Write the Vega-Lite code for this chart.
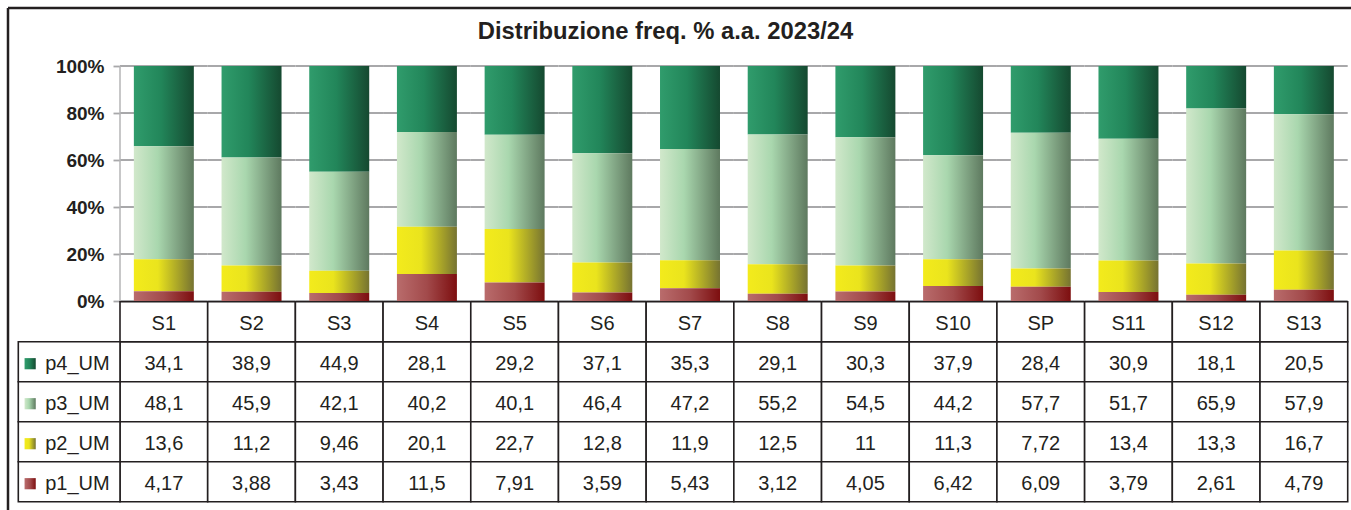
{
  "$schema": "https://vega.github.io/schema/vega-lite/v6.json",
  "width": 1343,
  "height": 502,
  "autosize": {"type": "none"},
  "padding": {"left": 8, "top": 8, "right": 0, "bottom": 0},
  "background": "white",
  "config": {
    "locale": {"number": {"decimal": ",", "thousands": ".", "grouping": [3], "currency": ["", " €"]}},
    "view": {"stroke": "#231f20", "strokeWidth": 2.5, "strokeDash": [1343, 1845, 502, 0]},
    "font": "Liberation Sans",
    "axisY": {
      "labelFont": "Liberation Sans",
      "labelFontSize": 19,
      "labelFontWeight": "bold",
      "labelColor": "#231f20",
      "labelPadding": 9,
      "tickSize": 7,
      "tickColor": "#a8a8aa",
      "tickWidth": 1.8,
      "domain": false,
      "grid": false,
      "title": null
    }
  },
  "title": {
    "text": "Distribuzione freq. % a.a. 2023/24",
    "font": "Liberation Sans",
    "fontSize": 23.8,
    "fontWeight": "bold",
    "color": "#231f20",
    "anchor": "middle",
    "frame": "group",
    "offset": -55,
    "baseline": "alphabetic",
    "dx": -14
  },
  "datasets": {
    "d": [
      {"cat": "S1", "series": "p4_UM", "value": 34.1}, {"cat": "S1", "series": "p3_UM", "value": 48.1}, {"cat": "S1", "series": "p2_UM", "value": 13.6}, {"cat": "S1", "series": "p1_UM", "value": 4.17},
      {"cat": "S2", "series": "p4_UM", "value": 38.9}, {"cat": "S2", "series": "p3_UM", "value": 45.9}, {"cat": "S2", "series": "p2_UM", "value": 11.2}, {"cat": "S2", "series": "p1_UM", "value": 3.88},
      {"cat": "S3", "series": "p4_UM", "value": 44.9}, {"cat": "S3", "series": "p3_UM", "value": 42.1}, {"cat": "S3", "series": "p2_UM", "value": 9.46}, {"cat": "S3", "series": "p1_UM", "value": 3.43},
      {"cat": "S4", "series": "p4_UM", "value": 28.1}, {"cat": "S4", "series": "p3_UM", "value": 40.2}, {"cat": "S4", "series": "p2_UM", "value": 20.1}, {"cat": "S4", "series": "p1_UM", "value": 11.5},
      {"cat": "S5", "series": "p4_UM", "value": 29.2}, {"cat": "S5", "series": "p3_UM", "value": 40.1}, {"cat": "S5", "series": "p2_UM", "value": 22.7}, {"cat": "S5", "series": "p1_UM", "value": 7.91},
      {"cat": "S6", "series": "p4_UM", "value": 37.1}, {"cat": "S6", "series": "p3_UM", "value": 46.4}, {"cat": "S6", "series": "p2_UM", "value": 12.8}, {"cat": "S6", "series": "p1_UM", "value": 3.59},
      {"cat": "S7", "series": "p4_UM", "value": 35.3}, {"cat": "S7", "series": "p3_UM", "value": 47.2}, {"cat": "S7", "series": "p2_UM", "value": 11.9}, {"cat": "S7", "series": "p1_UM", "value": 5.43},
      {"cat": "S8", "series": "p4_UM", "value": 29.1}, {"cat": "S8", "series": "p3_UM", "value": 55.2}, {"cat": "S8", "series": "p2_UM", "value": 12.5}, {"cat": "S8", "series": "p1_UM", "value": 3.12},
      {"cat": "S9", "series": "p4_UM", "value": 30.3}, {"cat": "S9", "series": "p3_UM", "value": 54.5}, {"cat": "S9", "series": "p2_UM", "value": 11}, {"cat": "S9", "series": "p1_UM", "value": 4.05},
      {"cat": "S10", "series": "p4_UM", "value": 37.9}, {"cat": "S10", "series": "p3_UM", "value": 44.2}, {"cat": "S10", "series": "p2_UM", "value": 11.3}, {"cat": "S10", "series": "p1_UM", "value": 6.42},
      {"cat": "SP", "series": "p4_UM", "value": 28.4}, {"cat": "SP", "series": "p3_UM", "value": 57.7}, {"cat": "SP", "series": "p2_UM", "value": 7.72}, {"cat": "SP", "series": "p1_UM", "value": 6.09},
      {"cat": "S11", "series": "p4_UM", "value": 30.9}, {"cat": "S11", "series": "p3_UM", "value": 51.7}, {"cat": "S11", "series": "p2_UM", "value": 13.4}, {"cat": "S11", "series": "p1_UM", "value": 3.79},
      {"cat": "S12", "series": "p4_UM", "value": 18.1}, {"cat": "S12", "series": "p3_UM", "value": 65.9}, {"cat": "S12", "series": "p2_UM", "value": 13.3}, {"cat": "S12", "series": "p1_UM", "value": 2.61},
      {"cat": "S13", "series": "p4_UM", "value": 20.5}, {"cat": "S13", "series": "p3_UM", "value": 57.9}, {"cat": "S13", "series": "p2_UM", "value": 16.7}, {"cat": "S13", "series": "p1_UM", "value": 4.79}
    ],
    "cats": [
      {"cat": "S1", "row": "hdr"}, {"cat": "S2", "row": "hdr"}, {"cat": "S3", "row": "hdr"}, {"cat": "S4", "row": "hdr"}, {"cat": "S5", "row": "hdr"}, {"cat": "S6", "row": "hdr"}, {"cat": "S7", "row": "hdr"},
      {"cat": "S8", "row": "hdr"}, {"cat": "S9", "row": "hdr"}, {"cat": "S10", "row": "hdr"}, {"cat": "SP", "row": "hdr"}, {"cat": "S11", "row": "hdr"}, {"cat": "S12", "row": "hdr"}, {"cat": "S13", "row": "hdr"}
    ],
    "rows": [{"series": "p4_UM", "col": "lbl"}, {"series": "p3_UM", "col": "lbl"}, {"series": "p2_UM", "col": "lbl"}, {"series": "p1_UM", "col": "lbl"}],
    "grid": [
      {"cat": "S1", "g": [0, 0.2, 0.4, 0.6, 0.8, 1]}, {"cat": "S2", "g": [0, 0.2, 0.4, 0.6, 0.8, 1]}, {"cat": "S3", "g": [0, 0.2, 0.4, 0.6, 0.8, 1]},
      {"cat": "S4", "g": [0, 0.2, 0.4, 0.6, 0.8, 1]}, {"cat": "S5", "g": [0, 0.2, 0.4, 0.6, 0.8, 1]}, {"cat": "S6", "g": [0, 0.2, 0.4, 0.6, 0.8, 1]},
      {"cat": "S7", "g": [0, 0.2, 0.4, 0.6, 0.8, 1]}, {"cat": "S8", "g": [0, 0.2, 0.4, 0.6, 0.8, 1]}, {"cat": "S9", "g": [0, 0.2, 0.4, 0.6, 0.8, 1]},
      {"cat": "S10", "g": [0, 0.2, 0.4, 0.6, 0.8, 1]}, {"cat": "SP", "g": [0, 0.2, 0.4, 0.6, 0.8, 1]}, {"cat": "S11", "g": [0, 0.2, 0.4, 0.6, 0.8, 1]},
      {"cat": "S12", "g": [0, 0.2, 0.4, 0.6, 0.8, 1]}, {"cat": "S13", "g": [0, 0.2, 0.4, 0.6, 0.8, 1]}
    ]
  },
  "layer": [
    {
      "layer": [
        {
          "data": {"name": "grid"},
          "transform": [{"flatten": ["g"]}],
          "mark": {"type": "rect", "fill": null, "stroke": "#a8a8aa", "strokeWidth": 1.8},
          "encoding": {
            "x": {"field": "cat", "type": "nominal", "axis": null,
                  "scale": {"type": "band", "domain": ["S1","S2","S3","S4","S5","S6","S7","S8","S9","S10","SP","S11","S12","S13"], "paddingInner": 0, "paddingOuter": 0.6574, "align": 0.9714}},
            "y": {"field": "g", "type": "quantitative",
                  "scale": {"type": "linear", "domain": [-0.88936, 1.24681], "nice": false, "zero": false},
                  "axis": {"orient": "left", "offset": -112, "values": [0, 0.2, 0.4, 0.6, 0.8, 1], "format": ".0%"}},
            "y2": {"field": "g"}
          }
        },
        {
          "data": {"name": "grid"},
          "transform": [{"flatten": ["g"]}, {"filter": "datum.cat === 'S1'"}],
          "mark": {"type": "rule", "color": "#b4b4b6", "strokeWidth": 1.5},
          "encoding": {
            "x": {"field": "cat", "type": "nominal", "bandPosition": 0, "axis": null,
                  "scale": {"type": "band", "domain": ["S1","S2","S3","S4","S5","S6","S7","S8","S9","S10","SP","S11","S12","S13"], "paddingInner": 0, "paddingOuter": 0.6574, "align": 0.9714}},
            "y": {"aggregate": "min", "field": "g", "type": "quantitative",
                  "scale": {"type": "linear", "domain": [-0.88936, 1.24681], "nice": false, "zero": false}},
            "y2": {"aggregate": "max", "field": "g"}
          }
        },
        {
          "data": {"name": "d"},
          "transform": [
            {"stack": "value", "groupby": ["cat"], "sort": [{"field": "series", "order": "ascending"}], "offset": "normalize", "as": ["v0", "v1"]}
          ],
          "encoding": {
            "x": {"field": "cat", "type": "nominal", "axis": null,
                  "scale": {"type": "band", "domain": ["S1","S2","S3","S4","S5","S6","S7","S8","S9","S10","SP","S11","S12","S13"], "paddingInner": 0, "paddingOuter": 0.6574, "align": 0.9714}},
            "y": {"field": "v1", "type": "quantitative",
                  "scale": {"type": "linear", "domain": [-0.88936, 1.24681], "nice": false, "zero": false}},
            "y2": {"field": "v0"}
          },
          "layer": [
            {
              "transform": [{"filter": "datum.series === 'p4_UM'"}],
              "mark": {"type": "bar", "width": {"band": 0.684}, "stroke": null,
                       "fill": {"gradient": "linear", "x1": 0, "y1": 0, "x2": 1, "y2": 0,
                                "stops": [{"offset": 0, "color": "#309c6c"}, {"offset": 0.45, "color": "#22865a"}, {"offset": 1, "color": "#154930"}]}}
            },
            {
              "transform": [{"filter": "datum.series === 'p3_UM'"}],
              "mark": {"type": "bar", "width": {"band": 0.684}, "stroke": null,
                       "fill": {"gradient": "linear", "x1": 0, "y1": 0, "x2": 1, "y2": 0,
                                "stops": [{"offset": 0, "color": "#d1e8cb"}, {"offset": 0.4, "color": "#a9d7ae"}, {"offset": 1, "color": "#5e795f"}]}}
            },
            {
              "transform": [{"filter": "datum.series === 'p2_UM'"}],
              "mark": {"type": "bar", "width": {"band": 0.684}, "stroke": null,
                       "fill": {"gradient": "linear", "x1": 0, "y1": 0, "x2": 1, "y2": 0,
                                "stops": [{"offset": 0, "color": "#f3eb1c"}, {"offset": 0.4, "color": "#eae41d"}, {"offset": 1, "color": "#767331"}]}}
            },
            {
              "transform": [{"filter": "datum.series === 'p1_UM'"}],
              "mark": {"type": "bar", "width": {"band": 0.684}, "stroke": null,
                       "fill": {"gradient": "linear", "x1": 0, "y1": 0, "x2": 1, "y2": 0,
                                "stops": [{"offset": 0, "color": "#b96c6c"}, {"offset": 0.5, "color": "#a24a4b"}, {"offset": 1, "color": "#7d0e0f"}]}}
            }
          ]
        }
      ]
    },
    {
      "layer": [
        {
          "data": {"name": "d"},
          "mark": {"type": "rect", "fill": "white", "stroke": "#231f20", "strokeWidth": 1.6},
          "encoding": {
            "x": {"field": "cat", "type": "nominal", "axis": null,
                  "scale": {"type": "band", "domain": ["S1","S2","S3","S4","S5","S6","S7","S8","S9","S10","SP","S11","S12","S13"], "paddingInner": 0, "paddingOuter": 0.6574, "align": 0.9714}},
            "y": {"field": "series", "type": "nominal", "axis": null,
                  "scale": {"type": "band", "domain": ["r1","r2","r3","r4","r5","r6","r7","hdr","p4_UM","p3_UM","p2_UM","p1_UM"], "paddingInner": 0, "paddingOuter": 0.275, "align": 0.623}}
          }
        },
        {
          "data": {"name": "d"},
          "mark": {"type": "text", "font": "Liberation Sans", "fontSize": 20, "color": "#231f20", "baseline": "middle", "dy": 2},
          "encoding": {
            "x": {"field": "cat", "type": "nominal", "axis": null,
                  "scale": {"type": "band", "domain": ["S1","S2","S3","S4","S5","S6","S7","S8","S9","S10","SP","S11","S12","S13"], "paddingInner": 0, "paddingOuter": 0.6574, "align": 0.9714}},
            "y": {"field": "series", "type": "nominal", "axis": null,
                  "scale": {"type": "band", "domain": ["r1","r2","r3","r4","r5","r6","r7","hdr","p4_UM","p3_UM","p2_UM","p1_UM"], "paddingInner": 0, "paddingOuter": 0.275, "align": 0.623}},
            "text": {"field": "value", "type": "quantitative", "format": ".3~r"}
          }
        },
        {
          "data": {"name": "cats"},
          "mark": {"type": "rect", "fill": "white", "stroke": "#231f20", "strokeWidth": 1.6},
          "encoding": {
            "x": {"field": "cat", "type": "nominal", "axis": null,
                  "scale": {"type": "band", "domain": ["S1","S2","S3","S4","S5","S6","S7","S8","S9","S10","SP","S11","S12","S13"], "paddingInner": 0, "paddingOuter": 0.6574, "align": 0.9714}},
            "y": {"field": "row", "type": "nominal", "axis": null,
                  "scale": {"type": "band", "domain": ["r1","r2","r3","r4","r5","r6","r7","hdr","p4_UM","p3_UM","p2_UM","p1_UM"], "paddingInner": 0, "paddingOuter": 0.275, "align": 0.623}}
          }
        },
        {
          "data": {"name": "cats"},
          "mark": {"type": "text", "font": "Liberation Sans", "fontSize": 20, "color": "#231f20", "baseline": "middle", "dy": 2},
          "encoding": {
            "x": {"field": "cat", "type": "nominal", "axis": null,
                  "scale": {"type": "band", "domain": ["S1","S2","S3","S4","S5","S6","S7","S8","S9","S10","SP","S11","S12","S13"], "paddingInner": 0, "paddingOuter": 0.6574, "align": 0.9714}},
            "y": {"field": "row", "type": "nominal", "axis": null,
                  "scale": {"type": "band", "domain": ["r1","r2","r3","r4","r5","r6","r7","hdr","p4_UM","p3_UM","p2_UM","p1_UM"], "paddingInner": 0, "paddingOuter": 0.275, "align": 0.623}},
            "text": {"field": "cat", "type": "nominal"}
          }
        }
      ]
    },
    {
      "data": {"name": "rows"},
      "encoding": {
        "x": {"field": "col", "type": "nominal", "axis": null,
              "scale": {"type": "band", "domain": ["lbl","c1","c2","c3","c4","c5","c6","c7","c8","c9","c10","c11","c12"], "paddingInner": 0, "paddingOuter": 0.103, "align": 0.4917}},
        "y": {"field": "series", "type": "nominal", "axis": null,
              "scale": {"type": "band", "domain": ["r1","r2","r3","r4","r5","r6","r7","hdr","p4_UM","p3_UM","p2_UM","p1_UM"], "paddingInner": 0, "paddingOuter": 0.275, "align": 0.623}}
      },
      "layer": [
        {"mark": {"type": "rect", "fill": "white", "stroke": "#231f20", "strokeWidth": 1.6}},
        {
          "transform": [{"filter": "datum.series === 'p4_UM'"}],
          "mark": {"type": "point", "shape": "square", "size": 125, "filled": true, "opacity": 1, "xOffset": -39, "yOffset": 2, "strokeWidth": 0,
                   "fill": {"gradient": "linear", "x1": 0, "y1": 0, "x2": 1, "y2": 0,
                            "stops": [{"offset": 0, "color": "#309c6c"}, {"offset": 0.45, "color": "#22865a"}, {"offset": 1, "color": "#154930"}]}}
        },
        {
          "transform": [{"filter": "datum.series === 'p3_UM'"}],
          "mark": {"type": "point", "shape": "square", "size": 125, "filled": true, "opacity": 1, "xOffset": -39, "yOffset": 2, "strokeWidth": 0,
                   "fill": {"gradient": "linear", "x1": 0, "y1": 0, "x2": 1, "y2": 0,
                            "stops": [{"offset": 0, "color": "#d1e8cb"}, {"offset": 0.4, "color": "#a9d7ae"}, {"offset": 1, "color": "#5e795f"}]}}
        },
        {
          "transform": [{"filter": "datum.series === 'p2_UM'"}],
          "mark": {"type": "point", "shape": "square", "size": 125, "filled": true, "opacity": 1, "xOffset": -39, "yOffset": 2, "strokeWidth": 0,
                   "fill": {"gradient": "linear", "x1": 0, "y1": 0, "x2": 1, "y2": 0,
                            "stops": [{"offset": 0, "color": "#f3eb1c"}, {"offset": 0.4, "color": "#eae41d"}, {"offset": 1, "color": "#767331"}]}}
        },
        {
          "transform": [{"filter": "datum.series === 'p1_UM'"}],
          "mark": {"type": "point", "shape": "square", "size": 125, "filled": true, "opacity": 1, "xOffset": -39, "yOffset": 2, "strokeWidth": 0,
                   "fill": {"gradient": "linear", "x1": 0, "y1": 0, "x2": 1, "y2": 0,
                            "stops": [{"offset": 0, "color": "#b96c6c"}, {"offset": 0.5, "color": "#a24a4b"}, {"offset": 1, "color": "#7d0e0f"}]}}
        },
        {
          "mark": {"type": "text", "font": "Liberation Sans", "fontSize": 20, "color": "#231f20", "align": "left", "baseline": "middle", "dx": -24, "dy": 2},
          "encoding": {"text": {"field": "series", "type": "nominal"}}
        }
      ]
    }
  ],
  "resolve": {"scale": {"x": "independent", "y": "independent"}}
}
